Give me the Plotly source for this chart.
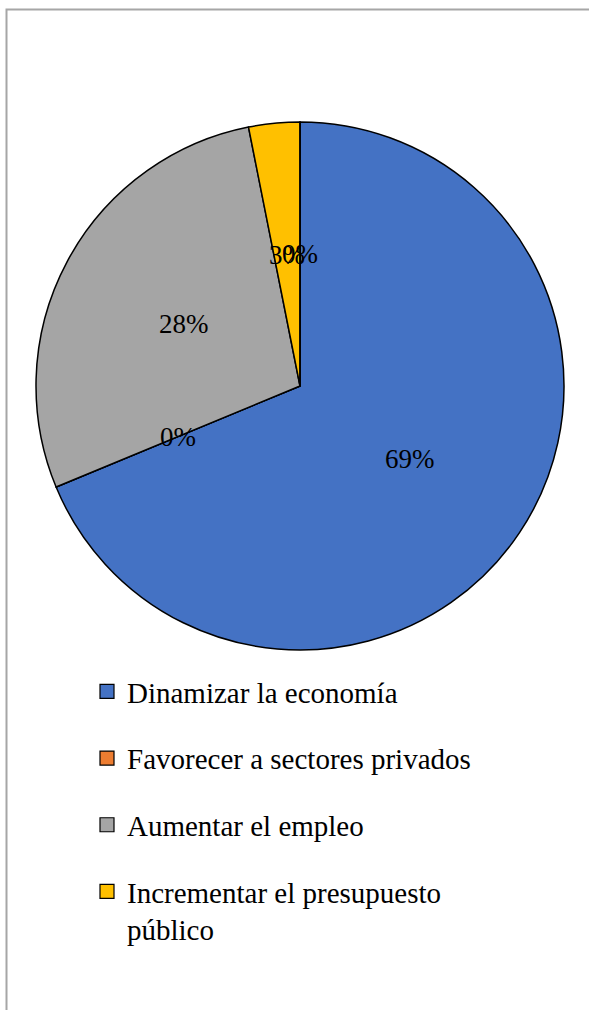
import math
import plotly.graph_objects as go

# ---- data ----
categories = ["Dinamizar la economía", "Favorecer a sectores privados",
              "Aumentar el empleo", "Incrementar el presupuesto<br>público", ""]
values = [22, 0, 9, 1, 0]
colors = ["#4472C4", "#ED7D31", "#A5A5A5", "#FFC000", "#FFFFFF"]
legend_count = 4

W, H = 589, 1010
CX, CY, R = 300, 386, 264  # pie centre and radius in px
FONT = "Liberation Serif, Times New Roman, serif"

fig = go.Figure()
fig.add_trace(go.Pie(
    labels=[c if c else " " for c in categories], values=values,
    marker=dict(colors=colors, line=dict(color="black", width=1.5)),
    sort=False, direction="clockwise", rotation=0,
    textinfo="none", showlegend=False, hoverinfo="label+percent",
    domain=dict(x=[(CX - R) / W, (CX + R) / W], y=[1 - (CY + R) / H, 1 - (CY - R) / H]),
))

# data labels computed from the values
total = sum(values)
cum = 0
for v in values:
    mid = (cum + v / 2) / total * 2 * math.pi
    cum += v
    dx = 0.5 * R * math.sin(mid)
    dy = 0.5 * R * math.cos(mid)
    pct = round(100 * v / total)
    fig.add_annotation(x=(CX + dx) / W, y=1 - (CY - dy) / H, xref="paper", yref="paper",
                       xanchor="center", yanchor="middle",
                       text=f"{pct}%", showarrow=False,
                       font=dict(family=FONT, size=27, color="black"))

# legend entries
for name, col in zip(categories[:legend_count], colors[:legend_count]):
    fig.add_trace(go.Scatter(x=[None], y=[None], mode="markers", name=name, legendgroup=name,
                             marker=dict(symbol="square", size=14, color=col,
                                         line=dict(color="black", width=1.2))))

fig.add_shape(type="rect", xref="paper", yref="paper",
              x0=6.5 / W, x1=1.05, y0=-0.05, y1=1 - 9.5 / H,
              line=dict(color="#a6a6a6", width=2), fillcolor="rgba(0,0,0,0)")

fig.update_layout(
    width=W, height=H, margin=dict(l=0, r=0, t=0, b=0),
    paper_bgcolor="white", plot_bgcolor="white",
    xaxis=dict(visible=False), yaxis=dict(visible=False),
    legend=dict(x=87 / W, y=1 - 666 / H, xanchor="left", yanchor="top",
                font=dict(family=FONT, size=29, color="black"),
                tracegroupgap=26, valign="top", bgcolor="rgba(0,0,0,0)"),
)
fig.write_html("out.html", config={"displayModeBar": False},
               post_script="document.body.style.margin='0';")
